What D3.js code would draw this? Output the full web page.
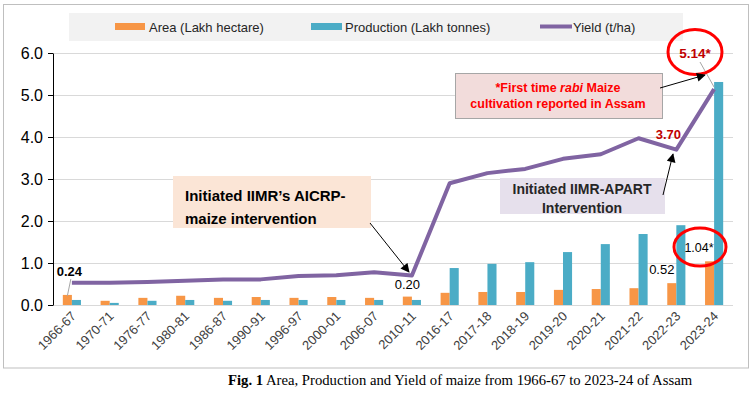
<!DOCTYPE html>
<html lang="en">
<head>
<meta charset="utf-8">
<style>
body {
  margin: 0;
  background: #fff;
  font-family: 'Liberation Sans', Arial, sans-serif;
}
.grid line { stroke: #d9d9d9; }
.grid path { display: none; }
.yaxis path, .yaxis line { stroke: #000; }
.yaxis text { font-size: 16px; fill: #000; }
.xlab { font-size: 13px; fill: #404040; }
.legend text { font-size: 13px; fill: #262626; }
.note { font-weight: bold; }
</style>
<script src="https://cdn.jsdelivr.net/npm/d3@7"></script>
</head>
<body>
<div id="chart"></div>
<script>
// chart data
var categories = ["1966-67", "1970-71", "1976-77", "1980-81", "1986-87", "1990-91", "1996-97",
  "2000-01", "2006-07", "2010-11", "2016-17", "2017-18", "2018-19", "2019-20", "2020-21",
  "2021-22", "2022-23", "2023-24"];
var area = [0.24, 0.10, 0.17, 0.22, 0.17, 0.19, 0.17, 0.19, 0.17, 0.20, 0.29, 0.31, 0.31, 0.36, 0.38, 0.40, 0.52, 1.04];
var production = [0.12, 0.05, 0.10, 0.12, 0.10, 0.12, 0.12, 0.12, 0.12, 0.12, 0.88, 0.98, 1.02, 1.26, 1.45, 1.69, 1.90, 5.31];
var yieldVals = [0.53, 0.53, 0.55, 0.58, 0.61, 0.61, 0.69, 0.71, 0.78, 0.70, 2.90, 3.14, 3.24, 3.48, 3.59, 3.97, 3.70, 5.14];
var yTicks = [0, 1, 2, 3, 4, 5, 6];
var seriesNames = ["Area (Lakh hectare)", "Production (Lakh tonnes)", "Yield (t/ha)"];
var colors = ["#F79646", "#4BACC6", "#8064A2"];

var W = 752, H = 395;
var plotL = 53, plotR = 733, plotT = 53, plotB = 305;

var svg = d3.select("#chart").append("svg")
  .attr("width", W).attr("height", H);

var defs = svg.append("defs");
defs.append("marker")
  .attr("id", "arrow")
  .attr("viewBox", "0 0 10 10")
  .attr("refX", 9).attr("refY", 5)
  .attr("markerWidth", 10).attr("markerHeight", 9)
  .attr("markerUnits", "userSpaceOnUse")
  .attr("orient", "auto")
  .append("path").attr("d", "M0,0 L10,5 L0,10 z").attr("fill", "#000");

// outer frame
svg.append("rect")
  .attr("x", 3.5).attr("y", 4.5).attr("width", 745).attr("height", 363.5)
  .attr("fill", "#fff").attr("stroke", "#bfbfbf");

var x = d3.scaleBand().domain(categories).range([plotL, plotR])
  .paddingInner(0.52).paddingOuter(0.26);
var xs = d3.scaleBand().domain([0, 1]).range([0, x.bandwidth()]);
var y = d3.scaleLinear().domain([0, 6]).range([plotB, plotT]);
var cx = function(c) { return x(c) + x.bandwidth() / 2; };

// gridlines
svg.append("g").attr("class", "grid")
  .attr("transform", "translate(" + plotL + ",0)")
  .call(d3.axisLeft(y).tickValues(yTicks).tickSize(-(plotR - plotL)).tickFormat(""));

// bars
var bars = svg.append("g");
[area, production].forEach(function(vals, s) {
  bars.selectAll(".b" + s)
    .data(vals)
    .enter().append("rect")
    .attr("x", function(d, i) { return x(categories[i]) + xs(s); })
    .attr("width", xs.bandwidth())
    .attr("y", function(d) { return y(d); })
    .attr("height", function(d) { return y(0) - y(d); })
    .attr("fill", colors[s]);
});

// y axis
svg.append("g").attr("class", "yaxis")
  .attr("transform", "translate(" + plotL + ",0)")
  .call(d3.axisLeft(y).tickValues(yTicks).tickSize(5).tickSizeOuter(0).tickFormat(d3.format(".1f")))
  .call(function(g) { g.selectAll("text").attr("x", -10); });

// yield line
var line = d3.line()
  .x(function(d, i) { return cx(categories[i]); })
  .y(function(d) { return y(d); });
svg.append("path")
  .datum(yieldVals)
  .attr("d", line)
  .attr("fill", "none")
  .attr("stroke", colors[2])
  .attr("stroke-width", 4)
  .attr("stroke-linejoin", "round");

// x labels
svg.append("g").selectAll("text")
  .data(categories)
  .enter().append("text")
  .attr("class", "xlab")
  .attr("text-anchor", "end")
  .attr("transform", function(d) { return "translate(" + (cx(d) + 5) + ",317) rotate(-45)"; })
  .text(function(d) { return d; });

// legend
var lg = svg.append("g").attr("class", "legend");
lg.append("rect").attr("x", 69).attr("y", 13).attr("width", 614).attr("height", 28).attr("fill", "#f2f2f2");
lg.append("rect").attr("x", 115).attr("y", 23).attr("width", 30).attr("height", 7).attr("fill", colors[0]);
lg.append("text").attr("x", 149).attr("y", 31.5).text(seriesNames[0]);
lg.append("rect").attr("x", 311).attr("y", 23).attr("width", 31).attr("height", 7).attr("fill", colors[1]);
lg.append("text").attr("x", 345).attr("y", 31.5).text(seriesNames[1]);
lg.append("line").attr("x1", 540).attr("x2", 572).attr("y1", 26.5).attr("y2", 26.5)
  .attr("stroke", colors[2]).attr("stroke-width", 4);
lg.append("text").attr("x", 573).attr("y", 31.5).text(seriesNames[2]);

// data labels
var n = categories.length;
var ox = function(i) { return x(categories[i]) + xs(0) + xs.bandwidth() / 2; };
svg.append("line")
  .attr("x1", ox(0) + 3.5).attr("y1", 279).attr("x2", ox(0)).attr("y2", y(area[0]) + 1)
  .attr("stroke", "#a6a6a6");
svg.append("text").attr("class", "note").attr("x", ox(0) + 2).attr("y", 276)
  .attr("text-anchor", "middle").attr("font-size", 13).text(area[0].toFixed(2));
svg.append("text").attr("x", ox(9)).attr("y", 289)
  .attr("text-anchor", "middle").attr("font-size", 13).text(area[9].toFixed(2));
svg.append("text").attr("x", ox(16) - 10).attr("y", 274)
  .attr("text-anchor", "middle").attr("font-size", 13).text(area[16].toFixed(2));
svg.append("text").attr("x", 699).attr("y", 252)
  .attr("text-anchor", "middle").attr("font-size", 12.5).text(area[n - 1].toFixed(2) + "*");
svg.append("ellipse").attr("cx", 700).attr("cy", 247).attr("rx", 26).attr("ry", 19)
  .attr("fill", "none").attr("stroke", "#ff0000").attr("stroke-width", 3);

svg.append("text").attr("class", "note").attr("x", cx(categories[16]) - 8).attr("y", 139)
  .attr("text-anchor", "middle").attr("font-size", 13).attr("fill", "#c00000")
  .text(yieldVals[16].toFixed(2));
svg.append("line")
  .attr("x1", 700).attr("y1", 62).attr("x2", cx(categories[n - 1])).attr("y2", y(yieldVals[n - 1]) - 2)
  .attr("stroke", "#a6a6a6");
svg.append("text").attr("class", "note").attr("x", 695).attr("y", 58)
  .attr("text-anchor", "middle").attr("font-size", 13.5).attr("fill", "#c00000")
  .text(yieldVals[n - 1].toFixed(2) + "*");
svg.append("ellipse").attr("cx", 695).attr("cy", 52).attr("rx", 27).attr("ry", 22.5)
  .attr("fill", "none").attr("stroke", "#ff0000").attr("stroke-width", 3);

// annotation boxes
svg.append("rect").attr("x", 173).attr("y", 176).attr("width", 198).attr("height", 52).attr("fill", "#fbe5d6");
svg.append("text").attr("class", "note").attr("x", 185).attr("y", 201).attr("font-size", 15).text("Initiated IIMR\u2019s AICRP-");
svg.append("text").attr("class", "note").attr("x", 185).attr("y", 224).attr("font-size", 15).text("maize intervention");
svg.append("line").attr("x1", 370).attr("y1", 223).attr("x2", 409).attr("y2", 272)
  .attr("stroke", "#000").attr("marker-end", "url(#arrow)");

svg.append("rect").attr("x", 500).attr("y", 178).attr("width", 165).attr("height", 36).attr("fill", "#e6e0ec");
svg.append("text").attr("class", "note").attr("x", 582).attr("y", 194).attr("text-anchor", "middle")
  .attr("font-size", 14).attr("fill", "#262626").text("Initiated IIMR-APART");
svg.append("text").attr("class", "note").attr("x", 582).attr("y", 213).attr("text-anchor", "middle")
  .attr("font-size", 14).attr("fill", "#262626").text("Intervention");
svg.append("line").attr("x1", 663).attr("y1", 195).attr("x2", 673).attr("y2", 154)
  .attr("stroke", "#000").attr("marker-end", "url(#arrow)");

svg.append("rect").attr("x", 455.5).attr("y", 73.5).attr("width", 207).attr("height", 45)
  .attr("fill", "#f2dcdb").attr("stroke", "#a6a6a6");
var t1 = svg.append("text").attr("class", "note").attr("x", 558).attr("y", 91.5).attr("text-anchor", "middle")
  .attr("font-size", 12.5).attr("fill", "#ff0000");
t1.append("tspan").text("*First time ");
t1.append("tspan").attr("font-style", "italic").text("rabi");
t1.append("tspan").text(" Maize");
svg.append("text").attr("class", "note").attr("x", 558).attr("y", 107.5).attr("text-anchor", "middle")
  .attr("font-size", 12.5).attr("fill", "#ff0000").text("cultivation reported in Assam");
svg.append("line").attr("x1", 660).attr("y1", 88).attr("x2", 705).attr("y2", 75)
  .attr("stroke", "#000").attr("marker-end", "url(#arrow)");

// caption
var cap = svg.append("text").attr("x", 228).attr("y", 385)
  .attr("font-family", "'Liberation Serif', 'Times New Roman', serif").attr("font-size", 14.7).attr("fill", "#000");
cap.append("tspan").attr("font-weight", "bold").text("Fig. 1");
cap.append("tspan").text(" Area, Production and Yield of maize from 1966-67 to 2023-24 of Assam");
</script>
</body>
</html>
